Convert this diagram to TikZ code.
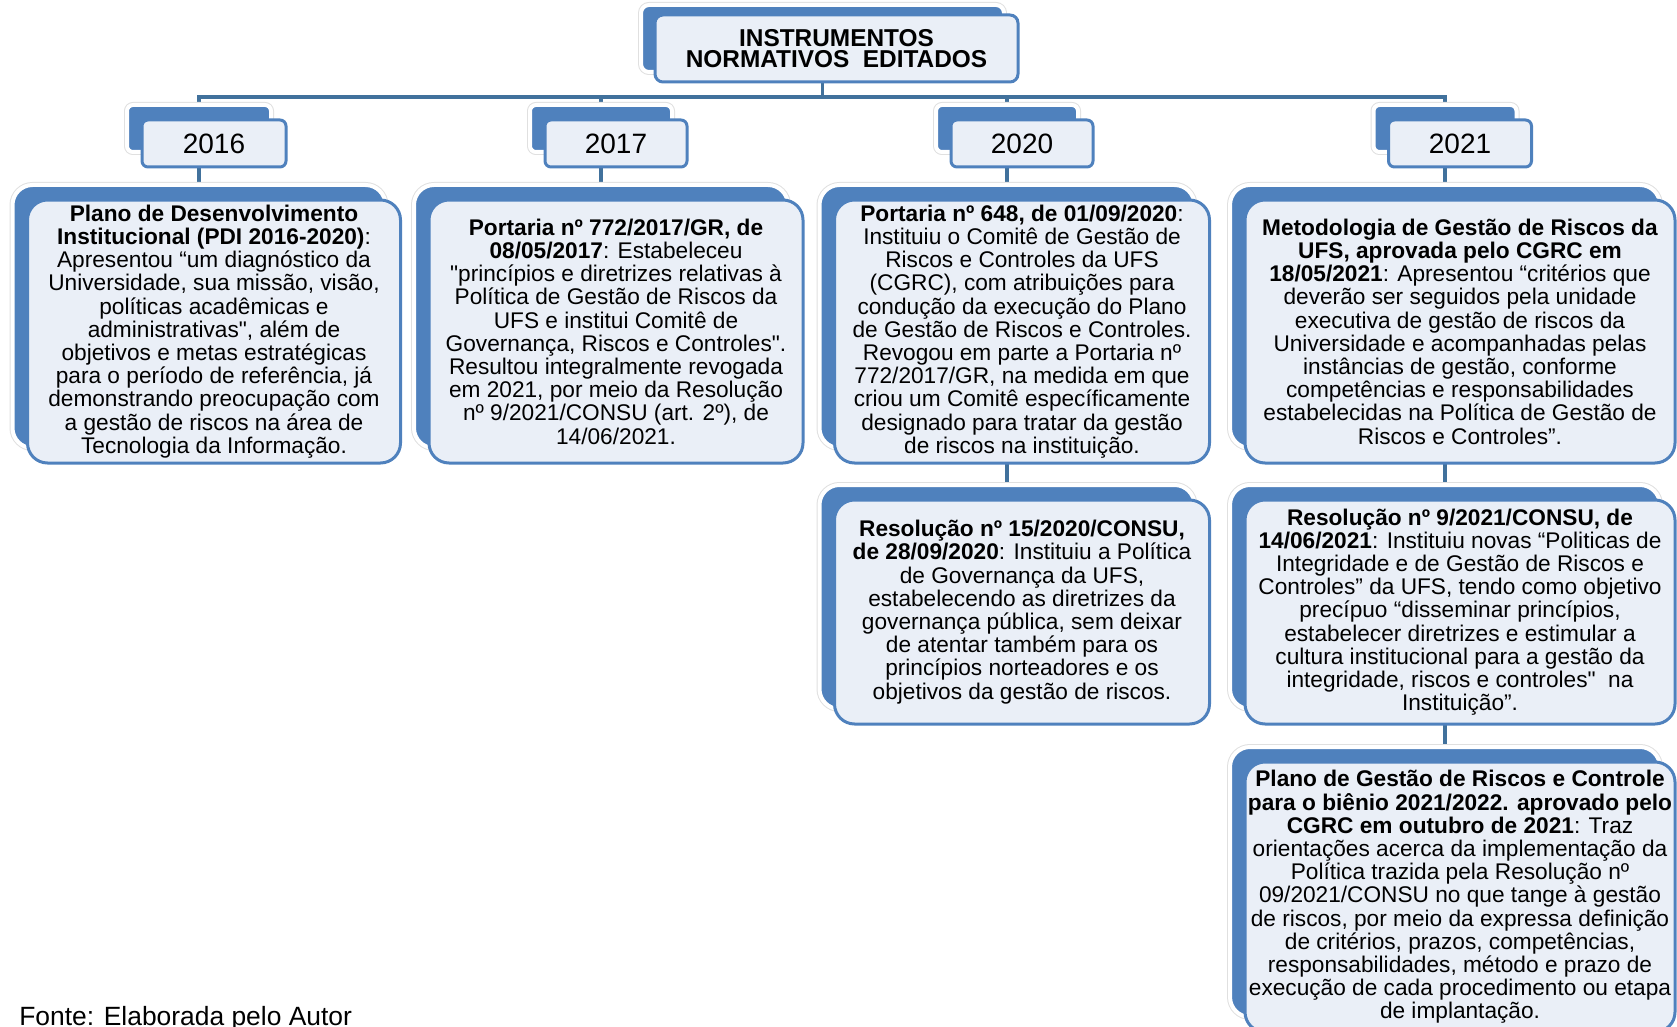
\documentclass[tikz,border=0pt]{standalone}
\usepackage{fontspec}
\setmainfont{Liberation Sans}[Ligatures=TeXOff]
\usetikzlibrary{backgrounds}

\definecolor{smartblue}{RGB}{79,129,189}
\definecolor{paleblue}{RGB}{234,239,247}
\definecolor{linkblue}{RGB}{65,113,156}

\tikzset{
  sz/.style 2 args={minimum width=#1*0.75pt, minimum height=#2*0.75pt},
  backbox/.style={fill=smartblue, draw=white, line width=3pt, inner sep=0pt,
    rounded corners=#1, preaction={draw=black!12, line width=4.5pt}},
  frontbox/.style={fill=paleblue, draw=smartblue, line width=2.25pt, inner sep=0pt,
    align=center, text=black, rounded corners=#1},
  txtbox/.style={frontbox=15pt, font=\fontsize{17}{17.4}\selectfont},
  yearbox/.style={frontbox=4.5pt, font=\fontsize{21}{24}\selectfont},
  link/.style={draw=linkblue, line width=2.6pt},
}

\begin{document}
\begin{tikzpicture}[x=0.75pt,y=0.75pt,yscale=-1,xscale=1]
\useasboundingbox (0,0) rectangle (1677,1027);

% title
\node [backbox=6pt, sz={363}{67}] (ttlb) at (822.5,38.5) {};
\node [frontbox=6pt, sz={363}{67}, font=\fontsize{18.3}{16.2}\selectfont\bfseries] (ttl) at (836.5,48.5)
  {INSTRUMENTOS\\NORMATIVOS~~EDITADOS};

% years
\node [backbox=4.5pt, sz={144}{47}] (y16b) at (199,128.5) {};
\node [yearbox, sz={144}{47}] (y16) at (214,143.5) {2016};
\node [backbox=4.5pt, sz={142}{47}] (y17b) at (601,128.5) {};
\node [yearbox, sz={142}{47}] (y17) at (616,143.5) {2017};
\node [backbox=4.5pt, sz={142}{47}] (y20b) at (1007,128.5) {};
\node [yearbox, sz={142}{47}] (y20) at (1022,143.5) {2020};
\node [backbox=4.5pt, sz={143}{47}] (y21b) at (1445,128.5) {};
\node [yearbox, sz={143}{47}] (y21) at (1460,143.5) {2021};

% 2016
\node [backbox=15pt, sz={373}{263}] (pdib) at (199,316.5) {};
\node [txtbox, sz={373}{263}] (pdi) at (214,331.5)
  {\textbf{Plano de Desenvolvimento}\\
   \textbf{Institucional (PDI 2016-2020)}:\\
   Apresentou “um diagnóstico da\\
   Universidade, sua missão, visão,\\
   políticas acadêmicas e\\
   administrativas", além de\\
   objetivos e metas estratégicas\\
   para o período de referência, já\\
   demonstrando preocupação com\\
   a gestão de riscos na área de\\
   Tecnologia da Informação.};

% 2017
\node [backbox=15pt, sz={374}{263}] (p772b) at (601,316.5) {};
\node [txtbox, sz={374}{263}] (p772) at (616,331.5)
  {\textbf{Portaria nº 772/2017/GR, de}\\
   \textbf{08/05/2017}: Estabeleceu\\
   "princípios e diretrizes relativas à\\
   Política de Gestão de Riscos da\\
   UFS e institui Comitê de\\
   Governança, Riscos e Controles".\\
   Resultou integralmente revogada\\
   em 2021, por meio da Resolução\\
   nº 9/2021/CONSU (art. 2º), de\\
   14/06/2021.};

% 2020
\node [backbox=15pt, sz={375}{263}] (p648b) at (1007,316.5) {};
\node [txtbox, sz={375}{263}] (p648) at (1022,331.5)
  {\textbf{Portaria nº 648, de 01/09/2020}:\\
   Instituiu o Comitê de Gestão de\\
   Riscos e Controles da UFS\\
   (CGRC), com atribuições para\\
   condução da execução do Plano\\
   de Gestão de Riscos e Controles.\\
   Revogou em parte a Portaria nº\\
   772/2017/GR, na medida em que\\
   criou um Comitê específicamente\\
   designado para tratar da gestão\\
   de riscos na instituição.};
\node [backbox=15pt, sz={375}{224}] (r15b) at (1007,597) {};
\node [txtbox, sz={375}{224}] (r15) at (1022,612)
  {\textbf{Resolução nº 15/2020/CONSU,}\\
   \textbf{de 28/09/2020}: Instituiu a Política\\
   de Governança da UFS,\\
   estabelecendo as diretrizes da\\
   governança pública, sem deixar\\
   de atentar também para os\\
   princípios norteadores e os\\
   objetivos da gestão de riscos.};

% 2021
\node [backbox=15pt, sz={430}{263}] (metb) at (1445,316.5) {};
\node [txtbox, sz={430}{263}] (met) at (1460,331.5)
  {\textbf{Metodologia de Gestão de Riscos da}\\
   \textbf{UFS, aprovada pelo CGRC em}\\
   \textbf{18/05/2021}: Apresentou “critérios que\\
   deverão ser seguidos pela unidade\\
   executiva de gestão de riscos da\\
   Universidade e acompanhadas pelas\\
   instâncias de gestão, conforme\\
   competências e responsabilidades\\
   estabelecidas na Política de Gestão de\\
   Riscos e Controles”.};
\node [backbox=15pt, sz={430}{224}] (r9b) at (1445,597) {};
\node [txtbox, sz={430}{224}] (r9) at (1460,612)
  {\textbf{Resolução nº 9/2021/CONSU, de}\\
   \textbf{14/06/2021}: Instituiu novas “Politicas de\\
   Integridade e de Gestão de Riscos e\\
   Controles” da UFS, tendo como objetivo\\
   precípuo “disseminar princípios,\\
   estabelecer diretrizes e estimular a\\
   cultura institucional para a gestão da\\
   integridade, riscos e controles"~ na\\
   Instituição”.};
\node [backbox=15pt, sz={430}{270}] (planob) at (1445,882) {};
\node [txtbox, sz={430}{270}] (plano) at (1460,897)
  {\textbf{Plano de Gestão de Riscos e Controle}\\
   \textbf{para o biênio 2021/2022. aprovado pelo}\\
   \textbf{CGRC em outubro de 2021}: Traz\\
   orientações acerca da implementação da\\
   Política trazida pela Resolução nº\\
   09/2021/CONSU no que tange à gestão\\
   de riscos, por meio da expressa definição\\
   de critérios, prazos, competências,\\
   responsabilidades, método e prazo de\\
   execução de cada procedimento ou etapa\\
   de implantação.};

% source
\node [anchor=base west, inner sep=0pt, font=\fontsize{19.8}{22}\selectfont] (src) at (19,1025)
  {Fonte: Elaborada pelo Autor};

% connectors
\coordinate (bus) at (0,97);
\begin{scope}[on background layer]
\draw [link] (y16b.center) -- (y16b.center |- bus) -- (y21b.center |- bus) -- (y21b.center);
\draw [link] (ttlb.center) -- (ttlb.center |- bus);
\draw [link] (y17b.center) -- (y17b.center |- bus);
\draw [link] (y20b.center) -- (y20b.center |- bus);
\draw [link] (y16b.south) -- (pdib.north);
\draw [link] (y17b.south) -- (p772b.north);
\draw [link] (y20b.south) -- (p648b.north);
\draw [link] (p648b.south) -- (r15b.north);
\draw [link] (y21b.south) -- (metb.north);
\draw [link] (metb.south) -- (r9b.north);
\draw [link] (r9b.south) -- (planob.north);
\end{scope}

\end{tikzpicture}
\end{document}
